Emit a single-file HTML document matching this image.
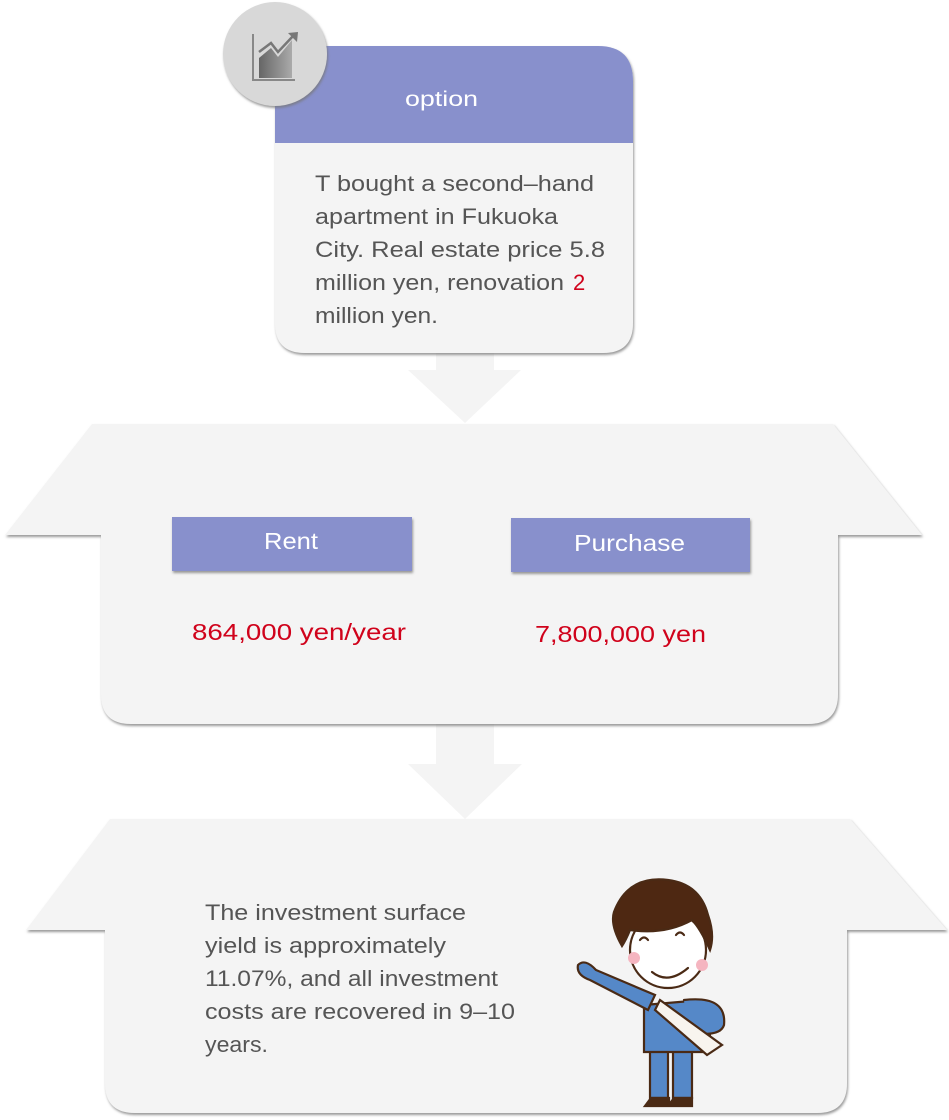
<!DOCTYPE html>
<html><head><meta charset="utf-8"><style>
html,body{margin:0;padding:0;background:#fff;}
svg{display:block;}
text{font-family:"Liberation Sans","DejaVu Sans",sans-serif;}
</style></head><body>
<svg width="949" height="1120" viewBox="0 0 949 1120" xmlns="http://www.w3.org/2000/svg">
<defs>
<filter id="sh" x="-10%" y="-10%" width="120%" height="130%">
<feDropShadow dx="1" dy="2" stdDeviation="1.2" flood-color="#777" flood-opacity="0.75"/>
</filter>
<linearGradient id="ig" x1="0" x2="1"><stop offset="0" stop-color="#666"/><stop offset="1" stop-color="#aaa"/></linearGradient>
</defs>

<path d="M436 350 H494 V370 H521 L465 423 L408 370 H436 Z" fill="#f4f4f4"/>
<path d="M436 720 H494 V764 H522 L465 819 L408 764 H436 Z" fill="#f4f4f4"/>

<path d="M275 46 H598 Q633 46 633 81 V323 Q633 353 603 353 H305 Q275 353 275 323 Z" fill="#f4f4f4" filter="url(#sh)"/>
<path d="M275 46 H598 Q633 46 633 81 V143 H275 Z" fill="#8890cc"/>
<text x="405" y="106" font-size="21" fill="#fff" textLength="73" lengthAdjust="spacingAndGlyphs">option</text>
<g font-size="22" fill="#555">
<text x="315" y="191" textLength="279" lengthAdjust="spacingAndGlyphs">T bought a second–hand</text>
<text x="315" y="224" textLength="243" lengthAdjust="spacingAndGlyphs">apartment in Fukuoka</text>
<text x="315" y="257" textLength="290" lengthAdjust="spacingAndGlyphs">City. Real estate price 5.8</text>
<text x="315" y="290" textLength="249" lengthAdjust="spacingAndGlyphs">million yen, renovation</text>
<text x="573" y="290" fill="#d0021b">2</text>
<text x="315" y="323" textLength="123" lengthAdjust="spacingAndGlyphs">million yen.</text>
</g>

<circle cx="275" cy="54" r="52" fill="#d8d8d8" filter="url(#sh)"/>
<g>
<path d="M253 34 V80 H295" stroke="#888" stroke-width="2" fill="none"/>
<path d="M259 78 V58 L271 48 L278 57 L292 40 V78 Z" fill="url(#ig)"/>
<path d="M259 52 L271 43 L278 52 L294 35" stroke="#777" stroke-width="2.5" fill="none"/>
<path d="M288 33 L298 32 L297 42 Z" fill="#777"/>
</g>

<path d="M92 424 H833 L922 535 H838 V694 Q838 724 808 724 H131 Q101 724 101 694 V535 H5 Z" fill="#f4f4f4" filter="url(#sh)"/>
<rect x="172" y="517" width="240" height="54" fill="#8890cc" filter="url(#sh)"/>
<rect x="511" y="518" width="239" height="54" fill="#8890cc" filter="url(#sh)"/>
<text x="264" y="549" font-size="23" fill="#fff" textLength="54" lengthAdjust="spacingAndGlyphs">Rent</text>
<text x="574" y="551" font-size="23" fill="#fff" textLength="111" lengthAdjust="spacingAndGlyphs">Purchase</text>
<text x="192" y="640" font-size="23" fill="#d0021b" textLength="214" lengthAdjust="spacingAndGlyphs">864,000 yen/year</text>
<text x="535" y="642" font-size="23" fill="#d0021b" textLength="171" lengthAdjust="spacingAndGlyphs">7,800,000 yen</text>

<path d="M110 819 H850 L947 930 H847 V1083 Q847 1113 817 1113 H135 Q105 1113 105 1083 V930 H26 Z" fill="#f4f4f4" filter="url(#sh)"/>
<g font-size="22" fill="#555">
<text x="205" y="920" textLength="261" lengthAdjust="spacingAndGlyphs">The investment surface</text>
<text x="205" y="953" textLength="241" lengthAdjust="spacingAndGlyphs">yield is approximately</text>
<text x="205" y="986" textLength="293" lengthAdjust="spacingAndGlyphs">11.07%, and all investment</text>
<text x="205" y="1019" textLength="310" lengthAdjust="spacingAndGlyphs">costs are recovered in 9–10</text>
<text x="205" y="1052" textLength="63" lengthAdjust="spacingAndGlyphs">years.</text>
</g>

<g stroke="#4a2a15" stroke-width="2.2" stroke-linecap="round">
<path d="M650 1050 H668 V1098 H650 Z M673 1050 H692 V1098 H673 Z" fill="#5588c8"/>
<path d="M651 1098 h18 v8 h-24 Z M674 1098 h18 v8 h-24 Z" fill="#4a2a15"/>
<path d="M644 1005 L702 1000 Q714 1020 708 1052 H644 Z" fill="#5588c8"/>
<path d="M578 965 Q576 975 590 980 L648 1010 L655 995 L596 970 Q585 958 578 965 Z" fill="#5588c8"/>
<path d="M684 1000 Q727 995 724 1025 Q720 1038 687 1032" fill="#5588c8"/>
<path d="M660 1000 L722 1045 L707 1055 L655 1010 Z" fill="#f8f4ee"/>
<circle cx="668" cy="950" r="38" fill="#fff"/>
<path d="M614 912 Q628 875 668 880 Q700 884 708 915 Q715 935 710 950 Q700 928 692 920 Q665 935 630 930 Q626 940 622 946 Q610 925 614 912 Z" fill="#4e2812"/>
<path d="M652 972 Q668 985 688 968" fill="none"/>
<path d="M640 940 q4 -5 8 0 M676 935 q4 -5 8 0" fill="none"/>
</g>
<circle cx="634" cy="958" r="6" fill="#f5b5c0"/>
<circle cx="702" cy="965" r="6" fill="#f5b5c0"/>
</svg>
</body></html>
